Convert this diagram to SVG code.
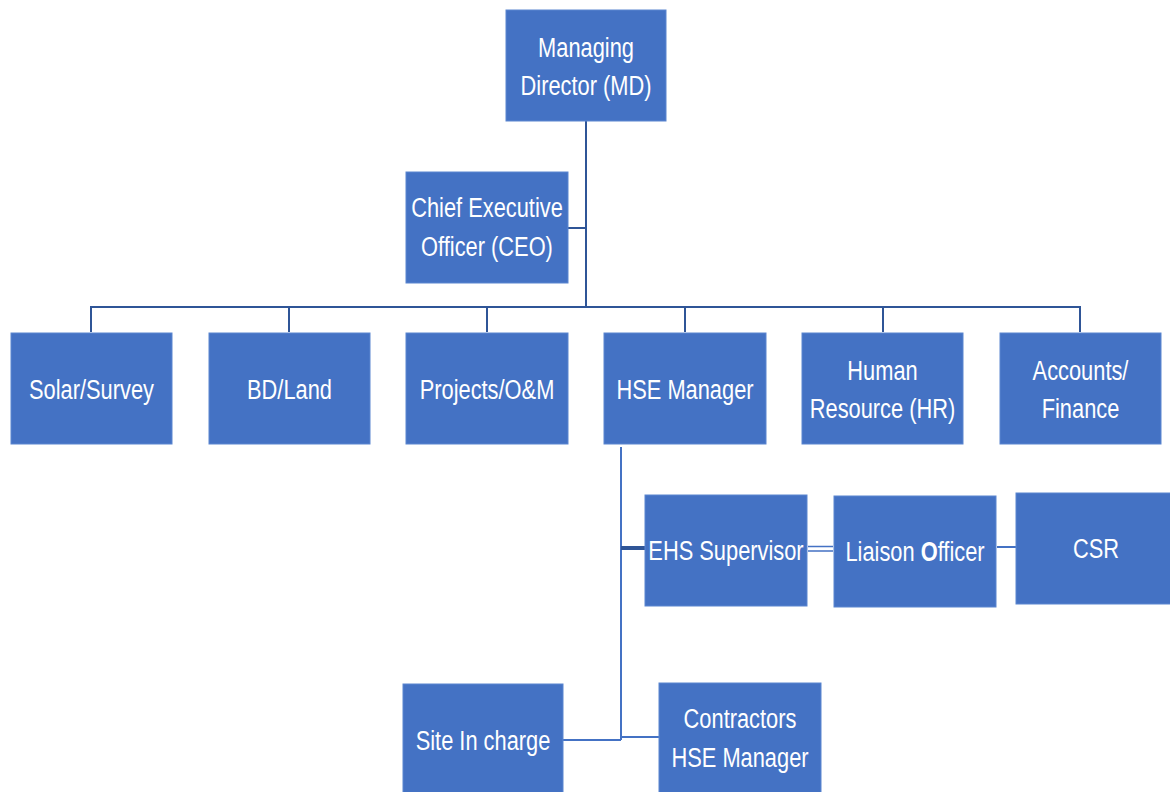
<svg xmlns="http://www.w3.org/2000/svg" width="1170" height="792" viewBox="0 0 1170 792">
<style>
.box{fill:#4472C4;stroke:#5B86D0;stroke-width:1}
.t{font-family:"Liberation Sans",Arial,sans-serif;font-size:28px;fill:#ffffff;text-anchor:middle}
.ln{stroke:#2F5597;stroke-width:2;fill:none}
.ln2{stroke:#4472C4;stroke-width:2;fill:none}
</style>
<rect width="1170" height="792" fill="#ffffff"/>
<g id="connectors">
<path class="ln" d="M586 121V307M568 228H586M91 307H1080M91 306V332M289 306V332M487 306V332M685 306V332M883 306V332M1080 306V332"/>
<path class="ln2" d="M621 447V740M563 740H621M621 737H659"/>
<path stroke="#2F5597" stroke-width="4" d="M621 548H645"/>
<path stroke="#4472C4" stroke-width="1.6" d="M808 546.5H833M808 551H833"/>
<path class="ln2" d="M997 547H1016"/>
</g>
<g id="md"><rect class="box" x="506" y="10" width="160" height="111"/>
<text class="t" transform="translate(586 57) scale(0.78 1)">Managing</text>
<text class="t" transform="translate(586 95) scale(0.78 1)">Director (MD)</text></g>
<g id="ceo"><rect class="box" x="406" y="172" width="162" height="111"/>
<text class="t" transform="translate(487 217) scale(0.78 1)">Chief Executive</text>
<text class="t" transform="translate(487 256) scale(0.78 1)">Officer (CEO)</text></g>
<g id="solar"><rect class="box" x="11" y="333" width="161" height="111"/>
<text class="t" transform="translate(91.5 399) scale(0.78 1)">Solar/Survey</text></g>
<g id="bd"><rect class="box" x="209" y="333" width="161" height="111"/>
<text class="t" transform="translate(289.5 399) scale(0.78 1)">BD/Land</text></g>
<g id="projects"><rect class="box" x="406" y="333" width="162" height="111"/>
<text class="t" transform="translate(487 399) scale(0.78 1)">Projects/O&amp;M</text></g>
<g id="hse"><rect class="box" x="604" y="333" width="162" height="111"/>
<text class="t" transform="translate(685 399) scale(0.78 1)">HSE Manager</text></g>
<g id="hr"><rect class="box" x="802" y="333" width="161" height="111"/>
<text class="t" transform="translate(882.5 380) scale(0.78 1)">Human</text>
<text class="t" transform="translate(882.5 418) scale(0.78 1)">Resource (HR)</text></g>
<g id="accounts"><rect class="box" x="1000" y="333" width="161" height="111"/>
<text class="t" transform="translate(1080.5 380) scale(0.78 1)">Accounts/</text>
<text class="t" transform="translate(1080.5 418) scale(0.78 1)">Finance</text></g>
<g id="ehs"><rect class="box" x="645" y="495" width="162" height="111"/>
<text class="t" transform="translate(726 560) scale(0.78 1)">EHS Supervisor</text></g>
<g id="liaison"><rect class="box" x="834" y="496" width="162" height="111"/>
<text class="t" transform="translate(915 561) scale(0.78 1)">Liaison <tspan font-weight="bold">O</tspan>fficer</text></g>
<g id="csr"><rect class="box" x="1016" y="493" width="160" height="111"/>
<text class="t" transform="translate(1096 558) scale(0.78 1)">CSR</text></g>
<g id="site"><rect class="box" x="403" y="684" width="160" height="120"/>
<text class="t" transform="translate(483 750) scale(0.78 1)">Site In charge</text></g>
<g id="contractors"><rect class="box" x="659" y="683" width="162" height="120"/>
<text class="t" transform="translate(740 728) scale(0.78 1)">Contractors</text>
<text class="t" transform="translate(740 767) scale(0.78 1)">HSE Manager</text></g>
</svg>
